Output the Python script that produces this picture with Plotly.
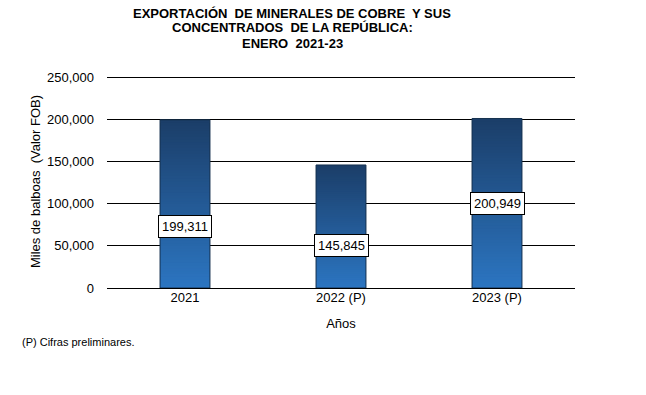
import plotly.graph_objects as go

categories = ["2021", "2022 (P)", "2023 (P)"]
values = [199311, 145845, 200949]
value_labels = ["199,311", "145,845", "200,949"]
y_ticks = [0, 50000, 100000, 150000, 200000, 250000]
y_tick_labels = ["0", "50,000", "100,000", "150,000", "200,000", "250,000"]
title_lines = [
    "EXPORTACIÓN  DE MINERALES DE COBRE  Y SUS",
    "CONCENTRADOS  DE LA REPÚBLICA:",
    "ENERO  2021-23",
]

# label box vertical placement (fraction of bar height)
label_frac = [0.363, 0.349, 0.501]

W, H = 646, 395
L, R, T, B = 107, 71, 75, 107
pw, ph = W - L - R, H - T - B
Y_MAX = 252500

def px_x(x):
    return (x - L) / pw

def px_y(y):
    return (H - B - y) / ph

top_rgb = (27, 62, 105)
bot_rgb = (44, 118, 194)
N = 60
FONT = "Liberation Sans, Arial"

fig = go.Figure()
# overlapping bars from 0, tallest (darkest top) first -> vertical gradient
for i in range(N):
    frac = (N - i) / N
    t = frac
    r = round(bot_rgb[0] + (top_rgb[0] - bot_rgb[0]) * t)
    g = round(bot_rgb[1] + (top_rgb[1] - bot_rgb[1]) * t)
    b = round(bot_rgb[2] + (top_rgb[2] - bot_rgb[2]) * t)
    fig.add_trace(go.Bar(
        x=list(range(len(categories))),
        y=[v * frac for v in values],
        width=0.32,
        marker=dict(color=f"rgb({r},{g},{b})", line=dict(width=0)),
        hoverinfo="skip",
        showlegend=False,
    ))
# outline
fig.add_trace(go.Bar(
    x=list(range(len(categories))), y=values, width=0.32,
    marker=dict(color="rgba(0,0,0,0)", line=dict(color="#16324f", width=1)),
    showlegend=False, hoverinfo="skip",
))

for idx, (v, lab, f) in enumerate(zip(values, value_labels, label_frac)):
    fig.add_annotation(
        x=idx, y=v * f, text=lab, showarrow=False,
        bgcolor="white", bordercolor="black", borderwidth=1, borderpad=3,
        font=dict(family=FONT, size=13, color="black"),
    )

title_y = [13, 28, 43]
for line, yy in zip(title_lines, title_y):
    fig.add_annotation(
        x=px_x(292), y=px_y(yy), xref="paper", yref="paper",
        xanchor="center", yanchor="middle", text=f"<b>{line}</b>",
        showarrow=False, font=dict(family=FONT, size=13, color="black"),
    )

fig.add_annotation(
    x=px_x(20), y=px_y(342), xref="paper", yref="paper",
    xanchor="left", yanchor="middle", text="(P) Cifras preliminares.",
    showarrow=False, font=dict(family=FONT, size=11, color="black"),
)

fig.update_layout(
    width=W, height=H,
    margin=dict(l=L, r=R, t=T, b=B),
    paper_bgcolor="white", plot_bgcolor="white",
    barmode="overlay",
    font=dict(family=FONT, size=13, color="black"),
    xaxis=dict(
        type="linear",
        tickvals=list(range(len(categories))), ticktext=categories,
        title=dict(text="Años", font=dict(size=13), standoff=14),
        showgrid=False, showline=False, ticks="", tickfont=dict(size=13),
        range=[-0.5, 2.5], zeroline=False,
    ),
    yaxis=dict(
        title=dict(text="Miles de balboas&nbsp; (Valor FOB)", font=dict(size=13), standoff=3),
        range=[0, Y_MAX], tickvals=y_ticks, ticktext=y_tick_labels,
        showgrid=True, gridcolor="black", gridwidth=1,
        zeroline=True, zerolinecolor="black", zerolinewidth=1,
        showline=False, ticks="", ticklabelstandoff=12, tickfont=dict(size=13),
    ),
)

fig.write_html("out.html", config={"displayModeBar": False},
               post_script="document.body.style.margin='0';")
